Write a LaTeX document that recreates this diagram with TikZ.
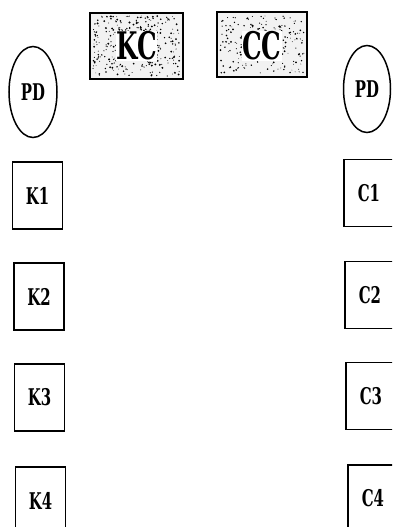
\documentclass[tikz,border=0pt]{standalone}
\usepackage{fontspec}
\usepackage{graphicx}
\setmainfont{DejaVu Serif Condensed}
\usetikzlibrary{shapes.geometric}
\tikzset{
  lbl/.style={font=\bfseries\fontsize{23}{25}\selectfont},
  box/.style={draw, line width=1.6pt, minimum width=50pt, minimum height=67pt, inner sep=0pt, lbl},
  pd/.style={draw, ellipse, line width=1.5pt, minimum width=48pt, minimum height=91pt, inner sep=0pt, lbl},
  hdr/.style={draw, line width=1.6pt, fill=gray!10, inner sep=0pt},
  hdrtxt/.style={font=\bfseries\fontsize{38}{40}\selectfont, inner sep=0.5pt}
}
\newcommand{\narrow}[1]{\scalebox{0.72}[1]{#1}}
\begin{document}
\begin{tikzpicture}[x=1pt,y=-1pt]
\useasboundingbox (0,0) rectangle (392,527);
\clip (0,0) rectangle (392,527);
% header boxes
\node[hdr, minimum width=93pt, minimum height=66pt] (kcbox) at (136.5,46) {};
\node[hdr, minimum width=90pt, minimum height=65pt] (ccbox) at (262,44.5) {};
\pgfmathsetseed{11}
\foreach \i in {1,...,320}{
  \pgfmathsetmacro\px{93+rnd*87}
  \pgfmathsetmacro\py{16+rnd*60}
  \pgfmathsetmacro\pr{0.35+rnd*0.75}
  \fill (\px,\py) circle (\pr pt);
}
\foreach \i in {1,...,200}{
  \pgfmathsetmacro\px{220+rnd*84}
  \pgfmathsetmacro\py{15+rnd*58}
  \pgfmathsetmacro\pr{0.35+rnd*0.65}
  \fill (\px,\py) circle (\pr pt);
}
\node[hdrtxt, fill=white] (kc) at (kcbox.center) {\narrow{KC}};
\node[hdrtxt, fill=white] (cc) at (262,46) {\narrow{CC}};
% PD ellipses
\node[pd] (pdl) at (33,92) {\narrow{PD}};
\node[pd, minimum width=47pt, minimum height=87pt] (pdr) at (367,89) {\narrow{PD}};
% left boxes
\node[box] (k1) at (37.5,195.5) {\narrow{K1}};
\node[box] (k2) at (39,296.5) {\narrow{K2}};
\node[box] (k3) at (39.5,397.5) {\narrow{K3}};
\node[box] (k4) at (40.5,500.5) {\narrow{K4}};
% right boxes (cut off at the right edge)
\node[box] (c1) at (369,193) {\narrow{C1}};
\node[box] (c2) at (370,295) {\narrow{C2}};
\node[box] (c3) at (371,396) {\narrow{C3}};
\node[box] (c4) at (373,498.5) {\narrow{C4}};
\end{tikzpicture}
\end{document}
